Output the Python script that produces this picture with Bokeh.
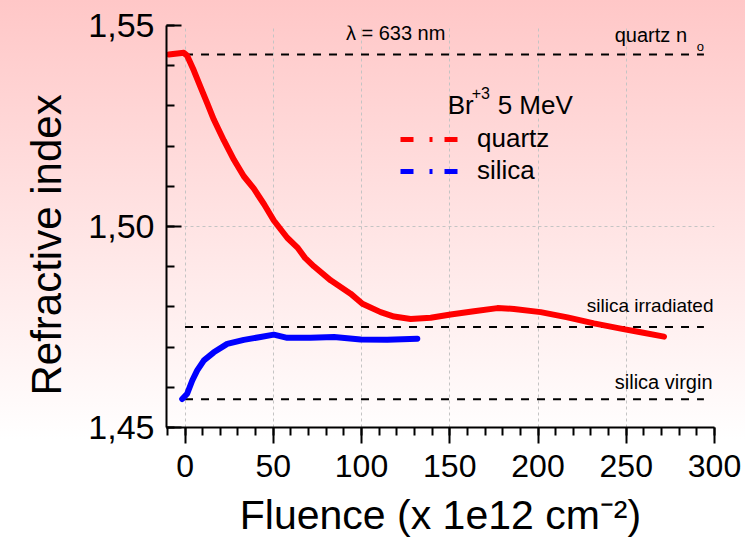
import math
from bokeh.plotting import figure
from bokeh.models import FixedTicker, CustomJSTickFormatter, Label, Legend, LegendItem, Title
from bokeh.embed import file_html
from bokeh.resources import INLINE

# ---- data ----
quartz_x = [-9.2, -0.7, 1.2, 5.0, 8.8, 12.6, 16.3, 22.0, 27.7, 33.3, 39.0, 44.7, 50.3, 57.9,
            64.0, 68.0, 73.0, 82.5, 93.8, 100.5, 110.8, 118.4, 127.8, 139.2, 150.5, 163.7,
            177.0, 186.4, 201.5, 216.7, 231.7, 246.9, 258.2, 271.4]
quartz_y = [1.5428, 1.5432, 1.5425, 1.5388, 1.5347, 1.5306, 1.5266, 1.5214, 1.5166, 1.5125,
            1.5094, 1.5056, 1.5015, 1.4972, 1.4946, 1.4922, 1.4901, 1.4866, 1.4833, 1.4808,
            1.4787, 1.4776, 1.4770, 1.4773, 1.4781, 1.4789, 1.4797, 1.4795, 1.4787, 1.4774,
            1.4759, 1.4746, 1.4737, 1.4726]
silica_x = [-1.6, 1.2, 4.1, 6.9, 10.7, 16.3, 23.9, 33.3, 42.8, 50.3, 57.9, 71.1, 84.4, 99.5,
            114.6, 131.6]
silica_y = [1.4571, 1.4584, 1.4617, 1.4642, 1.4667, 1.4687, 1.4708, 1.4718, 1.4725, 1.4731,
            1.4723, 1.4723, 1.4725, 1.4719, 1.4718, 1.4721]

ref_names = ["quartz no", "silica irradiated", "silica virgin"]
ref_values = [1.5428, 1.4750, 1.4570]
ref_x = [0, 294]

x_ticks = [0, 50, 100, 150, 200, 250, 300]
x_minor = list(range(-10, 301, 10))
y_ticks = [1.45, 1.50, 1.55]
y_minor = [1.45 + 0.01 * i for i in range(11)]
grid_x = [0, 50, 100, 150, 200, 250]
grid_y = [1.50]

FONT = "Liberation Sans"
NAN = float("nan")

p = figure(width=745, height=544, output_backend="svg", toolbar_location=None,
           x_range=(-10.5, 300), y_range=(1.45, 1.55),
           min_border_left=166, min_border_right=31, min_border_top=25, min_border_bottom=117)
p.styles = {"background": "linear-gradient(180deg, #ffc7c7 0px, #ffffff 440px, #ffffff 544px)"}
p.background_fill_color = None
p.border_fill_color = None
p.outline_line_color = None

# grids
p.xgrid.ticker = FixedTicker(ticks=grid_x)
p.ygrid.ticker = FixedTicker(ticks=grid_y)
for g in (p.xgrid, p.ygrid):
    g.grid_line_color = "#c4c4c4"
    g.grid_line_dash = "3 3"
    g.grid_line_width = 1

# axes
xa = p.xaxis[0]
ya = p.yaxis[0]
xa.ticker = FixedTicker(ticks=x_ticks, minor_ticks=x_minor)
ya.ticker = FixedTicker(ticks=y_ticks, minor_ticks=y_minor)
ya.formatter = CustomJSTickFormatter(code="return tick.toFixed(2).replace('.', ',');")
for ax in (xa, ya):
    ax.axis_line_width = 2
    ax.axis_line_color = "black"
    ax.major_tick_line_width = 2
    ax.minor_tick_line_width = 2
    ax.major_tick_line_color = "black"
    ax.minor_tick_line_color = "black"
    ax.major_label_text_font = FONT
    ax.major_label_text_color = "black"
    ax.axis_label_text_font = FONT
    ax.axis_label_text_font_style = "normal"
    ax.axis_label_text_color = "black"
xa.major_tick_in = 0
xa.major_tick_out = 16
xa.minor_tick_in = 0
xa.minor_tick_out = 8
xa.major_label_text_font_size = "32px"
xa.major_label_standoff = 11
xa.axis_label = "Fluence (x 1e12 cm\u207b\u00b2)"
xa.axis_label_text_font_size = "41px"
xa.axis_label_standoff = 12
ya.major_tick_in = 15
ya.major_tick_out = 0
ya.minor_tick_in = 8
ya.minor_tick_out = 0
ya.major_label_text_font_size = "34px"
ya.major_label_standoff = 12

# y-axis title as a side title (start-aligned with an offset along the axis)
ytitle = Title(text="Refractive index", align="left", offset=32, standoff=32,
               text_font=FONT, text_font_size="42px", text_font_style="normal",
               text_color="black")
p.add_layout(ytitle, "left")

# reference dashed lines
for v in ref_values:
    p.line(x=ref_x, y=[v, v], line_color="black", line_width=2, line_dash="8 8")

# data curves
p.line(x=quartz_x, y=quartz_y, line_color="#ff0000", line_width=6, line_join="round", line_cap="round")
p.line(x=silica_x, y=silica_y, line_color="#0000ff", line_width=6, line_join="round", line_cap="round")

# legend (dash-dot samples)
lq = p.line(x=[NAN, NAN], y=[NAN, NAN], line_color="#ff0000", line_width=5, line_dash="13 16 3 12")
ls = p.line(x=[NAN, NAN], y=[NAN, NAN], line_color="#0000ff", line_width=5, line_dash="13 16 3 12")
legend = Legend(items=[LegendItem(label="quartz", renderers=[lq]),
                       LegendItem(label="silica", renderers=[ls])],
                location=(234, 241), orientation="vertical",
                background_fill_alpha=0, border_line_color=None,
                padding=0, margin=0, spacing=1, glyph_width=60, glyph_height=30,
                label_height=30, label_standoff=17, label_text_color="black",
                label_text_font=FONT, label_text_font_size="26px")
p.add_layout(legend, "center")


def lab(text, x, y, size, align="left", baseline="middle", angle=0.0):
    p.add_layout(Label(x=x, y=y, text=text, text_font=FONT, text_font_size=size,
                       text_color="black", text_align=align, text_baseline=baseline,
                       angle=angle))


def px2x(px):
    return (px - 184.5) / 1.764


def py2y(py):
    return 1.55 - (py - 25) / 4020.0


# legend title
lab("Br", px2x(447), py2y(104), "26px")
lab("+3", px2x(471), py2y(92), "16px")
lab("5 MeV", px2x(497), py2y(104), "26px")

# annotations
lab("\u03bb = 633 nm", px2x(395), py2y(32), "20px", align="center")
lab("quartz n", px2x(614), py2y(34), "20px")
lab("o", px2x(696), py2y(46), "13px")
lab("silica irradiated", px2x(586), py2y(305), "19px")
lab("silica virgin", px2x(614), py2y(381), "20px")

open("out.html", "w").write(file_html(p, INLINE))
